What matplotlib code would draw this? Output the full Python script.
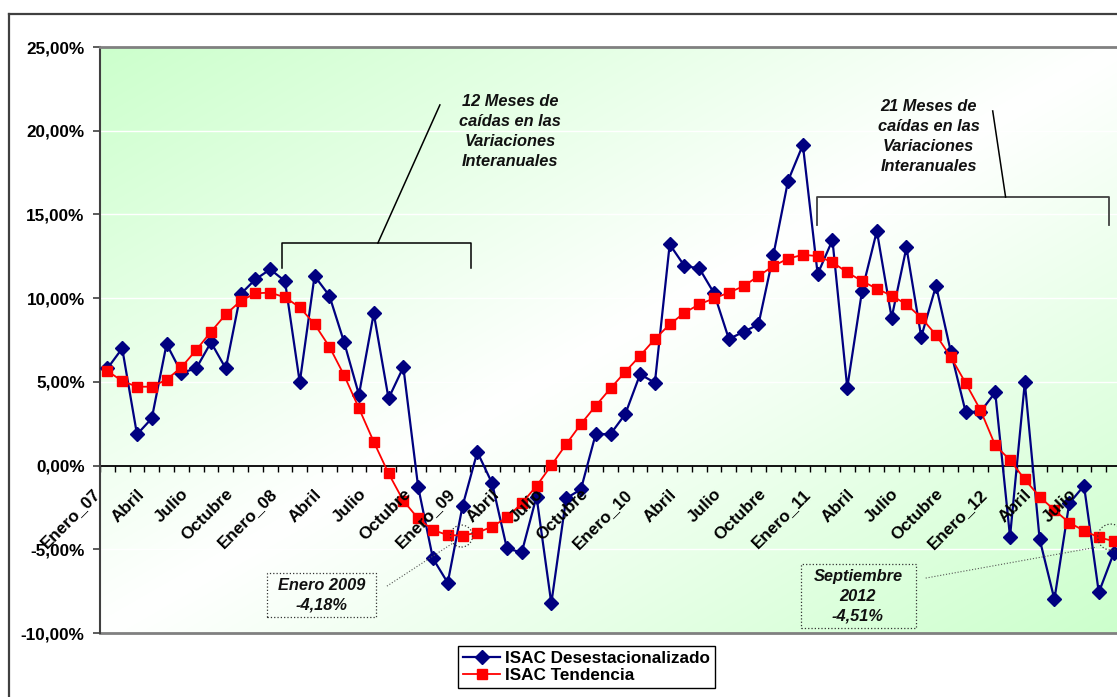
import matplotlib
matplotlib.use("Agg")
import matplotlib.pyplot as plt
import numpy as np
from matplotlib.patches import Rectangle, Ellipse
from matplotlib.lines import Line2D
from matplotlib.transforms import offset_copy

plt.rcParams['font.family'] = ['Liberation Sans', 'DejaVu Sans']

# ISAC monthly year-on-year variation (%), Jan 2007 - Sep 2012
isac_desest = [5.80, 7.00, 1.86, 2.82, 7.26, 5.55, 5.80, 7.36, 5.80, 10.24, 11.12, 11.72,
               11.02, 4.97, 11.32, 10.15, 7.36, 4.23, 9.09, 4.01, 5.88, -1.27, -5.55, -7.00,
               -2.42, 0.81, -1.06, -4.95, -5.19, -1.85, -8.23, -1.96, -1.42, 1.88, 1.88, 3.08,
               5.45, 4.95, 13.21, 11.92, 11.78, 10.29, 7.56, 7.99, 8.43, 12.55, 17.01, 19.15,
               11.44, 13.47, 4.65, 10.44, 14.01, 8.83, 13.03, 7.69, 10.74, 6.80, 3.21, 3.21,
               4.37, -4.25, 4.97, -4.39, -7.99, -2.26, -1.20, -7.58, -5.25]
isac_tend = [5.65, 5.05, 4.71, 4.71, 5.13, 5.87, 6.90, 7.99, 9.03, 9.83, 10.29, 10.33,
             10.05, 9.45, 8.45, 7.10, 5.39, 3.42, 1.42, -0.47, -2.10, -3.16, -3.85, -4.15,
             -4.18, -4.01, -3.65, -3.10, -2.26, -1.22, 0.01, 1.27, 2.48, 3.57, 4.61, 5.60,
             6.56, 7.56, 8.43, 9.13, 9.63, 9.99, 10.33, 10.72, 11.32, 11.92, 12.36, 12.59,
             12.51, 12.14, 11.54, 11.02, 10.56, 10.15, 9.63, 8.83, 7.80, 6.48, 4.93, 3.32,
             1.21, 0.33, -0.83, -1.86, -2.66, -3.41, -3.89, -4.29, -4.51]

quarter_labels = ['Enero_07', 'Abril', 'Julio', 'Octubre',
                  'Enero_08', 'Abril', 'Julio', 'Octubre',
                  'Enero_09', 'Abril', 'Julio', 'Octubre',
                  'Enero_10', 'Abril', 'Julio', 'Octubre',
                  'Enero_11', 'Abril', 'Julio', 'Octubre',
                  'Enero_12', 'Abril', 'Julio']
y_ticks = [25, 20, 15, 10, 5, 0, -5, -10]

series_names = ['ISAC Desestacionalizado', 'ISAC Tendencia']

W, H = 1117, 697
fig = plt.figure(figsize=(W / 100, H / 100), dpi=100)
n = len(isac_desest)
ax = fig.add_axes([100 / W, 1 - 633 / H, 1021 / W, 586 / H])

# outer chart frame
frame_kw = dict(color='#404040', lw=1.6, transform=fig.transFigure)
fig.add_artist(Line2D([9 / W, 9 / W], [0, 1 - 14 / H], **frame_kw))
fig.add_artist(Line2D([9 / W, 1.01], [1 - 14 / H, 1 - 14 / H], **frame_kw))

# diagonal green-white-green background
gx, gy = np.meshgrid(np.linspace(0, 1, 400), np.linspace(1, 0, 300))
t = (gx + (1 - gy)) / 2.0
f = np.abs(2 * t - 1)
green = np.array([0.80, 1.0, 0.80])
white = np.array([1.0, 1.0, 1.0])
img = white[None, None, :] * (1 - f[..., None]) + green[None, None, :] * f[..., None]
ax.imshow(img, extent=[0, 1, 0, 1], transform=ax.transAxes, aspect='auto',
          zorder=0, interpolation='bilinear')

for v in [20, 15, 10, 5, -5]:
    ax.axhline(v, color='white', lw=1.0, zorder=1)

x = np.arange(n)
ax.plot(x, isac_desest, color='#000080', lw=1.6, marker='D', ms=7,
        markeredgecolor='#000080', zorder=3)
ax.plot(x, isac_tend, color='#FF0000', lw=1.3, marker='s', ms=6.8,
        markeredgecolor='#FF0000', zorder=4)

ax.set_xlim(-0.5, n - 0.5)
ax.set_ylim(-10, 25)

# spines
ax.spines['right'].set_visible(False)
ax.spines['top'].set_color('#808080')
ax.spines['top'].set_linewidth(2)
ax.spines['left'].set_color('#404040')
ax.spines['left'].set_linewidth(1.5)
ax.spines['bottom'].set_position(('data', 0))
ax.spines['bottom'].set_color('black')
ax.spines['bottom'].set_linewidth(1.3)
ax.spines['bottom'].set_zorder(2)
ax.axhline(-10, color='#808080', lw=2, clip_on=False, zorder=2)

ax.set_yticks(y_ticks)
ax.set_yticklabels([f"{v:.2f}%".replace('.', ',') for v in y_ticks],
                   fontsize=12.3, fontweight='bold')
ax.tick_params(axis='y', direction='out', length=5, width=1.2, color='#404040', pad=6)

ax.set_xticks([])
ax.set_xticks(np.arange(-0.5, n, 1), minor=True)
ax.tick_params(axis='x', which='minor', direction='out', length=4, width=1, color='black')

label_tr = offset_copy(ax.transData, fig=fig, x=-10, y=-26, units='dots')
for k, lab in enumerate(quarter_labels):
    ax.text(3 * k, 0, lab, transform=label_tr, rotation=45, rotation_mode='anchor',
            ha='right', va='center', fontsize=12.3, fontweight='bold', zorder=5)

# annotations: bracketed spans
note_kw = dict(ha='center', va='center', fontsize=11.8, fontweight='bold',
               fontstyle='italic', linespacing=1.42, color='#111111', zorder=6)
ax.text(27.2, 19.95, '12 Meses de\ncaídas en las\nVariaciones\nInteranuales', **note_kw)
ax.plot([11.8, 11.8, 24.57, 24.57], [11.8, 13.29, 13.29, 11.8], color='black', lw=1.1, zorder=5)
ax.plot([18.28, 22.47], [13.29, 21.54], color='black', lw=1.1, zorder=5)

ax.text(55.5, 19.65, '21 Meses de\ncaídas en las\nVariaciones\nInteranuales', **note_kw)
ax.plot([47.95, 47.95, 67.67, 67.67], [14.37, 16.04, 16.04, 14.37], color='#404040', lw=1.3, zorder=5)
ax.plot([60.7, 59.83], [16.04, 21.18], color='black', lw=1.1, zorder=5)

# annotations: dotted call-outs on the trend minimum values
box_kw = dict(fill=False, linestyle=':', linewidth=0.9, edgecolor='#333333', zorder=5)
ax.add_patch(Rectangle((10.78, -9.05), 7.37, 2.63, **box_kw))
ax.text(14.45, -7.74, f"Enero 2009\n{isac_tend[24]:.2f}%".replace('.', ','), **note_kw)
ax.plot([18.89, 23.35], [-7.20, -4.63], color='#555555', lw=0.8, ls=':', zorder=5)
ax.add_patch(Ellipse((23.93, isac_tend[24] - 0.03), 1.49, 1.31, fill=False,
                     linestyle=':', linewidth=0.9, edgecolor='#333333', zorder=5))

ax.add_patch(Rectangle((46.86, -9.71), 7.77, 3.83, **box_kw))
ax.text(50.72, -7.8, f"Septiembre\n2012\n{isac_tend[68]:.2f}%".replace('.', ','), **note_kw)
ax.plot([55.3, 66.86], [-6.72, -4.87], color='#555555', lw=0.8, ls=':', zorder=5)
ax.add_patch(Ellipse((67.81, -4.27), 1.76, 1.55, fill=False, clip_on=False,
                     linestyle=':', linewidth=0.9, edgecolor='#333333', zorder=5))

handles = [Line2D([], [], color='#000080', lw=1.6, marker='D', ms=7),
           Line2D([], [], color='#FF0000', lw=1.3, marker='s', ms=6.8)]
leg = fig.legend(handles, series_names, loc='center',
                 bbox_to_anchor=(586.5 / W, 1 - 667 / H),
                 frameon=True, fancybox=False, framealpha=1, edgecolor='black',
                 prop={'size': 12.3, 'weight': 'bold'}, handlelength=2.2,
                 labelspacing=0.15, borderpad=0.25, handletextpad=0.3,
                 borderaxespad=0)
leg.get_frame().set_linewidth(1.0)

fig.savefig('out.png', dpi=100)
